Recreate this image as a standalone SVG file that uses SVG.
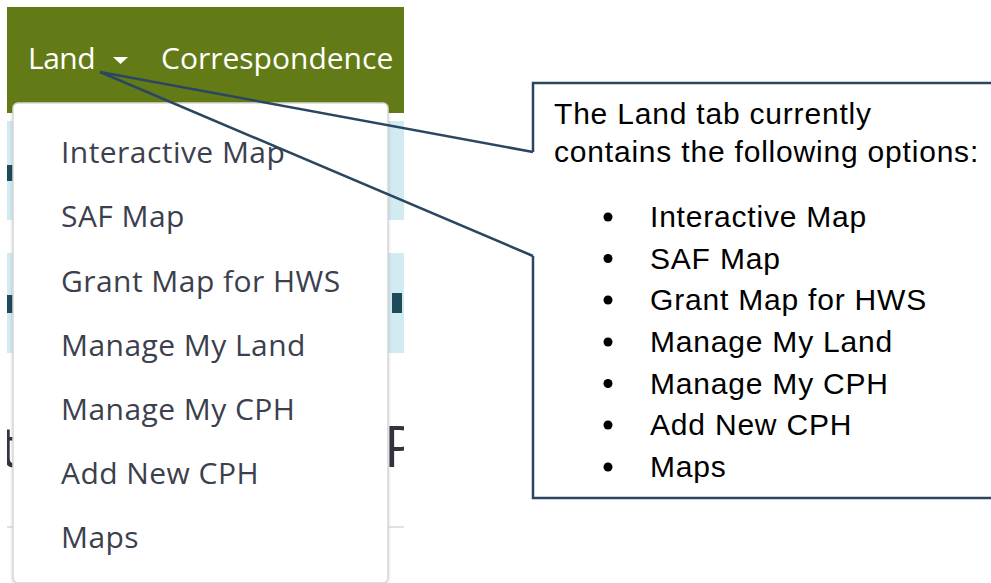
<svg xmlns="http://www.w3.org/2000/svg" width="991" height="583" viewBox="0 0 991 583">
<style>
.nav{font-family:"Open Sans","Noto Sans",sans-serif;font-size:30px;fill:#ffffff}
.item{font-family:"Open Sans","Noto Sans",sans-serif;font-size:30px;letter-spacing:0.45px;fill:#3c3f4e}
.ct{font-family:"Liberation Sans",Arial,sans-serif;font-size:30px;letter-spacing:0.8px;fill:#000000}
.line{fill:none;stroke:#2b4660;stroke-width:2.5;stroke-linejoin:miter}
</style>
<defs>
<clipPath id="page"><rect x="7" y="7" width="397" height="576"/></clipPath>
<filter id="sh" x="-5%" y="-5%" width="110%" height="110%"><feDropShadow dx="0" dy="1" stdDeviation="1.5" flood-color="#000" flood-opacity="0.18"/></filter>
</defs>
<rect x="0" y="0" width="991" height="583" fill="#ffffff"/>
<g id="page-bg" clip-path="url(#page)">
<rect x="7" y="7" width="397" height="106" fill="#637b16"/>
<rect x="7" y="121" width="397" height="99" fill="#d2ebf0"/>
<rect x="7" y="253" width="397" height="100" fill="#d2ebf0"/>
<rect x="7" y="526" width="397" height="2" fill="#e2e2e2"/>
<rect x="7" y="165" width="6" height="16" fill="#1f4a5a"/>
<rect x="7" y="295" width="6" height="18" fill="#1f4a5a"/>
<rect x="392" y="293" width="10" height="20" fill="#1f4a5a"/>
<text x="0" y="467" font-family="Open Sans,sans-serif" font-size="56" fill="#333340">t</text>
<text x="384" y="467" font-family="Open Sans,sans-serif" font-size="56" fill="#333340">P</text>
</g>
<g id="nav-bar">
<text class="nav" x="28" y="69" letter-spacing="-0.5">Land</text>
<path d="M113,57 L128,57 L120.5,64 Z" fill="#ffffff"/>
<text class="nav" x="161" y="69">Correspondence</text>
</g>
<g id="land-menu">
<rect x="13" y="103" width="375" height="480" rx="5" fill="#ffffff" stroke="#d6d6d6" stroke-width="1.5" filter="url(#sh)"/>
<text class="item" x="61" y="163">Interactive Map</text>
<text class="item" x="61" y="227">SAF Map</text>
<text class="item" x="61" y="292">Grant Map for HWS</text>
<text class="item" x="61" y="356">Manage My Land</text>
<text class="item" x="61" y="420">Manage My CPH</text>
<text class="item" x="61" y="484">Add New CPH</text>
<text class="item" x="61" y="548">Maps</text>
</g>
<g id="callout">
<rect x="533" y="83" width="470" height="415" fill="#ffffff"/>
<text class="ct" x="554" y="124">The Land tab currently</text>
<text class="ct" x="554" y="162">contains the following options:</text>
<g class="ct">
<circle cx="608" cy="217" r="4.5"/><text x="650" y="227">Interactive Map</text>
<circle cx="608" cy="258.5" r="4.5"/><text x="650" y="268.5">SAF Map</text>
<circle cx="608" cy="300" r="4.5"/><text x="650" y="310">Grant Map for HWS</text>
<circle cx="608" cy="342" r="4.5"/><text x="650" y="352">Manage My Land</text>
<circle cx="608" cy="383.5" r="4.5"/><text x="650" y="393.5">Manage My CPH</text>
<circle cx="608" cy="425" r="4.5"/><text x="650" y="435">Add New CPH</text>
<circle cx="608" cy="467" r="4.5"/><text x="650" y="477">Maps</text>
</g>
<path class="line" d="M533,152 L533,83 L1000,83 M1000,498 L533,498 L533,256"/>
</g>
<g id="connectors">
<path class="line" d="M533,152 L100,72 L533,256"/>
</g>
</svg>
